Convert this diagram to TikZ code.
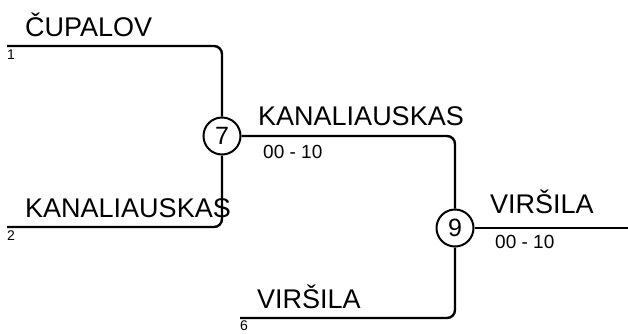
\documentclass[tikz,border=0pt]{standalone}
\usepackage{fontspec}
\setmainfont{Liberation Sans}
\usetikzlibrary{positioning}

\begin{document}
\begin{tikzpicture}[
    x=1pt, y=-1pt,
    match/.style={draw, circle, fill=white, minimum size=37pt, inner sep=0pt,
                  line width=2pt, font=\fontsize{25}{28}\selectfont},
    player/.style={anchor=base west, inner sep=0pt, font=\fontsize{27}{30}\selectfont},
    seed/.style={anchor=north west, inner sep=0pt, font=\fontsize{14}{16}\selectfont},
    score/.style={anchor=north west, inner sep=0pt, font=\fontsize{19}{21}\selectfont},
    line/.style={draw, line width=2.4pt, rounded corners=8pt}
]
    \useasboundingbox (0,0) rectangle (628,333);

    % matches
    \node[match] (m7) at (222,136) {7};
    \node[match] (m9) at (455,228) {9};

    % line starts
    \coordinate (s1)  at (7,46);
    \coordinate (s2)  at (7,227);
    \coordinate (s6)  at (240,318);
    \coordinate (out) at (628,228);

    % names
    \node[player] (p1)  at (25,36)   {ČUPALOV};
    \node[player] (p2)  at (25,217)  {KANALIAUSKAS};
    \node[player] (p6)  at (257,308) {VIRŠILA};
    \node[player] (w7)  at (258,125) {KANALIAUSKAS};
    \node[player] (w9)  at (490,213) {VIRŠILA};

    % seeds and scores
    \node[seed] (n1) at (7,50)   {1};
    \node[seed] (n2) at (7,231)  {2};
    \node[seed] (n6) at (240,321) {6};
    \node[score] (r7) at (263,145) {00 - 10};
    \node[score] (r9) at (495,235) {00 - 10};

    % connectors
    \draw[line] (s1) -| (m7);
    \draw[line] (s2) -| (m7);
    \draw[line] (m7) -| (m9);
    \draw[line] (s6) -| (m9);
    \draw[line] (m9) -- (out);
\end{tikzpicture}
\end{document}
